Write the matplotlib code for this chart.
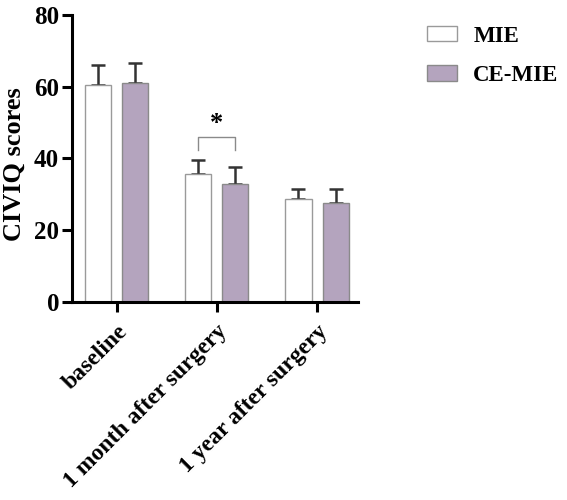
import matplotlib
matplotlib.use("Agg")
import matplotlib.pyplot as plt
import numpy as np

categories = ["baseline", "1 month after surgery", "1 year after surgery"]
mie_mean = [60.6, 35.7, 28.6]
mie_sd = [5.4, 3.9, 2.9]
ce_mean = [61.1, 32.9, 27.6]
ce_sd = [5.6, 4.7, 3.9]
yticks = [0, 20, 40, 60, 80]

plt.rcParams['font.family'] = ['Liberation Serif', 'DejaVu Serif']
plt.rcParams['font.weight'] = 'bold'

fig = plt.figure(figsize=(5.67, 5.0), dpi=100)
ax = fig.add_axes([0.1265, 0.3966, 0.505, 0.5734])

x = np.arange(len(categories))
w = 0.26
off = 0.185
purple = "#b4a4be"
ax.bar(x - off, mie_mean, w, color="white", edgecolor="#9a9a9a", linewidth=1.0, label="MIE", zorder=2)
ax.bar(x + off, ce_mean, w, color=purple, edgecolor="#8a8a8a", linewidth=1.0, label="CE-MIE", zorder=2)
ax.errorbar(x - off, mie_mean, yerr=[np.zeros(3), mie_sd], fmt="none", ecolor="#333333",
            elinewidth=1.8, capsize=4.7, capthick=1.8, zorder=1)
ax.errorbar(x + off, ce_mean, yerr=[np.zeros(3), ce_sd], fmt="none", ecolor="#333333",
            elinewidth=1.8, capsize=4.7, capthick=1.8, zorder=1)

# significance bracket
bx0, bx1 = 1 - off, 1 + off
ax.plot([bx0, bx0, bx1, bx1], [42.4, 46.0, 46.0, 42.4], color="#8a8a8a", lw=1.0)
ax.text(1, 46.5, "*", ha="center", va="bottom", fontsize=19, fontweight="bold")

ax.set_xlim(-0.45, 2.41)
ax.set_ylim(0, 80)
ax.set_yticks(yticks)
ax.set_xticks(x)
ax.set_xticklabels(categories, rotation=45, ha="right", rotation_mode="anchor", fontsize=17, fontweight="bold")
ax.tick_params(axis="y", labelsize=18, width=2.2, length=7, pad=2)
ax.tick_params(axis="x", width=2.2, length=7, pad=7)
for lab in ax.get_yticklabels():
    lab.set_fontweight("bold")
ax.set_ylabel("CIVIQ scores", fontsize=19, fontweight="bold")
ax.yaxis.set_label_coords(-0.16, 0.48)
for s in ["top", "right"]:
    ax.spines[s].set_visible(False)
for s in ["left", "bottom"]:
    ax.spines[s].set_linewidth(2.2)

leg = fig.legend(loc="upper left", bbox_to_anchor=(0.717, 0.99), frameon=False,
                 fontsize=16.5, handlelength=1.31, handleheight=0.65, labelspacing=0.8, handletextpad=0.7)
for t in leg.get_texts():
    t.set_fontweight("bold")

fig.savefig("out.png", dpi=100)
